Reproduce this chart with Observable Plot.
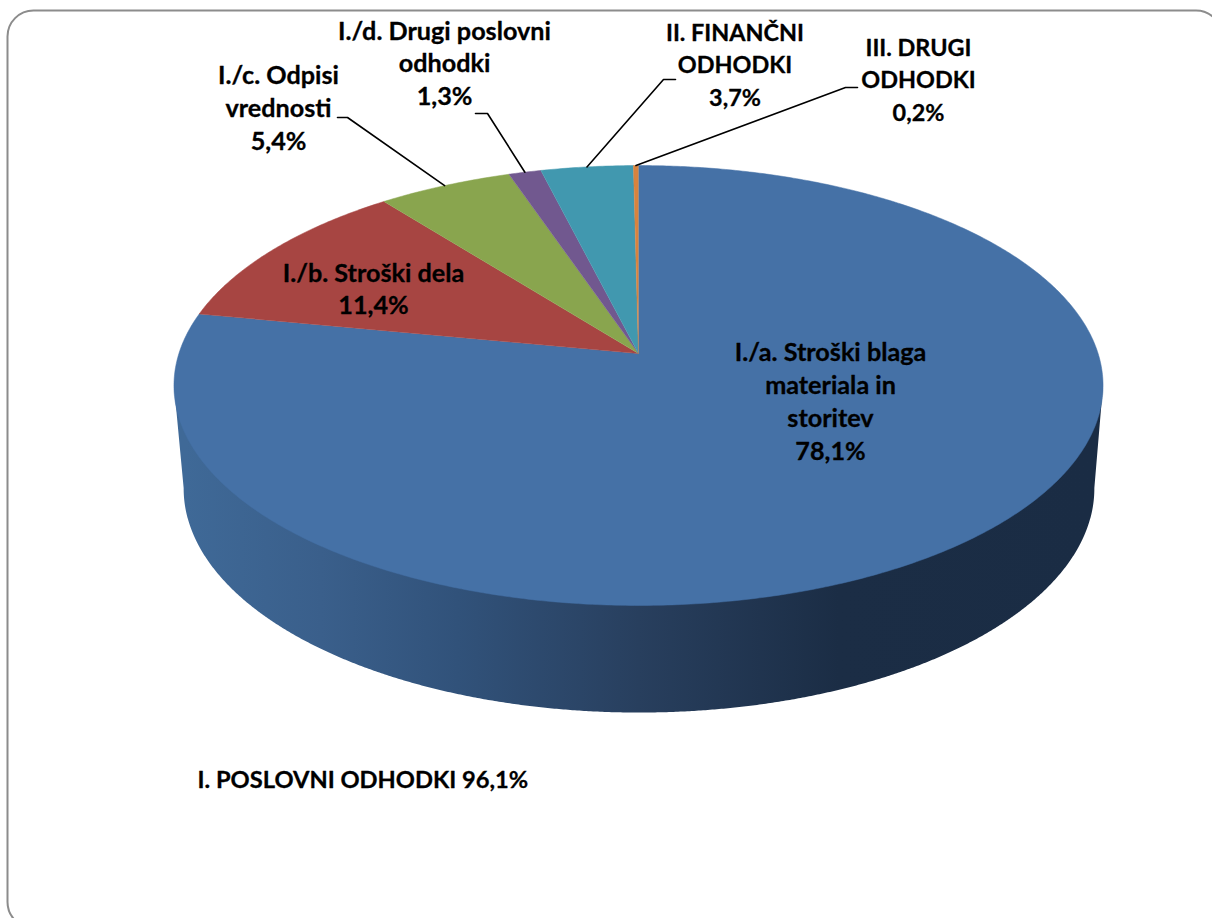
<!DOCTYPE html>
<html>
<head>
<meta charset="utf-8">
<script src="https://cdn.jsdelivr.net/npm/d3@7"></script>
<script src="https://cdn.jsdelivr.net/npm/@observablehq/plot@0.6"></script>
<style>html,body{margin:0;padding:0;background:#fff;overflow:hidden}svg{display:block}</style>
</head>
<body>
<div id="chart"></div>
<script>
// Data
const categories = ["I./a. Stroški blaga\nmateriala in\nstoritev", "I./b. Stroški dela", "I./c. Odpisi\nvrednosti", "I./d. Drugi poslovni\nodhodki", "II. FINANČNI\nODHODKI", "III. DRUGI\nODHODKI"];
const values = [78.1, 11.4, 5.4, 1.3, 3.7, 0.2];
const valueLabels = ["78,1%", "11,4%", "5,4%", "1,3%", "3,7%", "0,2%"];
const colors = ["#4571a6", "#a74542", "#89a54e", "#71588f", "#4198af", "#d8833e"];
const groupNote = "I. POSLOVNI ODHODKI 96,1%";

// Layout (separate from the data)
const W = 1212, H = 918;
const labelX = [830, 373, 278, 444, 734.5, 918];
const labelY = [399.5, 287, 106, 61.5, 62.5, 77.5];
const noteX = 197, noteY = 779.5;
const leaderElbow = [null, null, [[337, 117], [347, 117]], [[475, 113], [487, 113]], [[675, 79], [663, 79]], [[857, 87], [845, 87]]];

// Perspective projection of the pie's circular top and bottom faces
const k = -0.1455;
const top3d = {cx: 638, cy: 353, C: 459.6, A: 215.3};
const bottom3d = {cx: 638.5, cy: 455.4, C: 450.5, A: 219.3};
const project = (f, t) => {
  const a = 2 * Math.PI * t, u = Math.sin(a), v = -Math.cos(a), d = 1 + k * v;
  return {x: f.cx + f.C * u / d, y: f.cy + f.A * v / d};
};

const total = d3.sum(values);
const cum = d3.cumsum(values).map(c => c / total);
const starts = [0, ...cum.slice(0, -1)];
const slicePath = (i) => {
  const n = Math.max(2, Math.ceil((cum[i] - starts[i]) * 720));
  const pts = [{x: top3d.cx, y: top3d.cy}];
  for (let j = 0; j <= n; j++) pts.push(project(top3d, starts[i] + (cum[i] - starts[i]) * j / n));
  return pts;
};

// Side wall: the front half of the lower face, closed along the silhouette
const wall = [];
const widest = (f, sign) => {
  let best = null;
  for (let j = 0; j <= 1440; j++) {
    const p = project(f, j / 1440);
    if (!best || sign * p.x > sign * best.x) best = p;
  }
  return best;
};
wall.push(widest(top3d, 1));
const br = widest(bottom3d, 1);
for (let j = 0; j <= 1440; j++) {
  const p = project(bottom3d, j / 1440);
  if (p.y >= br.y - 0.5) wall.push(p);
}
wall.push(widest(top3d, -1));

const marks = [
  Plot.rect([{x1: 7.5, x2: 1222, y1: 10.5, y2: 928}], {x1: "x1", x2: "x2", y1: "y1", y2: "y2", rx: 26, fill: "#fff", stroke: "#8c8c8c", strokeWidth: 2}),
  Plot.line(wall, {x: "x", y: "y", fill: "url(#wallGrad)", stroke: "none"})
];
values.forEach((_, i) => {
  marks.push(Plot.line(slicePath(i), {x: "x", y: "y", fill: colors[i], stroke: colors[i], strokeWidth: 0.5}));
});
leaderElbow.forEach((e, i) => {
  if (!e) return;
  const end = project(top3d, (starts[i] + cum[i]) / 2);
  const pts = [...e.map(([x, y]) => ({x, y})), end];
  marks.push(Plot.line(pts, {x: "x", y: "y", stroke: "#000", strokeWidth: 1.6}));
});
const labels = categories.map((c, i) => ({text: c + "\n" + valueLabels[i], x: labelX[i], y: labelY[i]}));
const textStyle = {fontFamily: "Lato", fontWeight: 700, fill: "#000", stroke: "#000", strokeWidth: 0.3};
// Lato's lowercase runs narrower than the original face, so mixed-case labels are set a little larger
const mixedStyle = {...textStyle, fontSize: 25.2, lineHeight: 1.3};
const capsStyle = {...textStyle, fontSize: 23.4, lineHeight: 1.4};
marks.push(Plot.text(labels.slice(0, 4), {x: "x", y: "y", text: "text", textAnchor: "middle", ...mixedStyle}));
marks.push(Plot.text(labels.slice(4), {x: "x", y: "y", text: "text", textAnchor: "middle", ...capsStyle}));
marks.push(Plot.text([{text: groupNote, x: noteX, y: noteY}], {x: "x", y: "y", text: "text", textAnchor: "start", ...textStyle, fontSize: 23.7}));

const chart = Plot.plot({
  width: W, height: H,
  margin: 0,
  x: {domain: [0, W], range: [0, W], axis: null},
  y: {domain: [0, H], range: [0, H], axis: null},
  style: {background: "#fff"},
  marks
});

// Horizontal shading of the side wall
const defs = d3.select(chart).insert("defs", ":first-child");
const grad = defs.append("linearGradient").attr("id", "wallGrad")
  .attr("gradientUnits", "userSpaceOnUse")
  .attr("x1", 185).attr("x2", 1092).attr("y1", 0).attr("y2", 0);
[[0, "#3f6997"], [0.15, "#3a5f8b"], [0.3, "#31527a"], [0.5, "#283f5e"], [0.72, "#1b2d45"], [1, "#1a2c44"]]
  .forEach(([o, c]) => grad.append("stop").attr("offset", o).attr("stop-color", c));

document.getElementById("chart").appendChild(chart);
</script>
</body>
</html>
